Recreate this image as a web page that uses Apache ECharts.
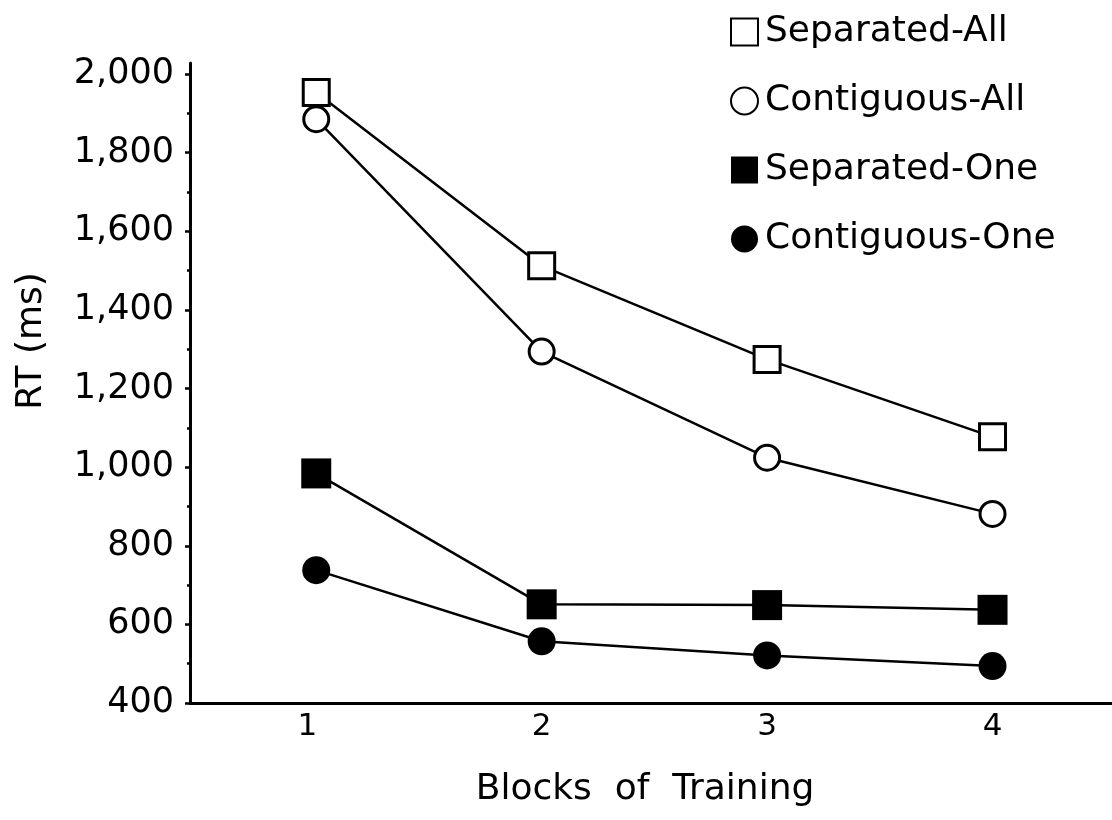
<!DOCTYPE html>
<html>
<head>
<meta charset="utf-8">
<script src="https://cdn.jsdelivr.net/npm/echarts@6/dist/echarts.min.js"></script>
<style>
html,body{margin:0;padding:0;background:#fff;}
#chart{width:1112px;height:820px;}
</style>
</head>
<body>
<div id="chart"></div>
<script>
const blocks = [1, 2, 3, 4];
const separatedAll = [1953, 1512, 1274, 1077];
const contiguousAll = [1885, 1294, 1024, 881];
const separatedOne = [984, 651, 649, 637];
const contiguousOne = [738, 557, 521, 494];
const yTicks = [400, 600, 800, 1000, 1200, 1400, 1600, 1800, 2000];
const seriesNames = ['Separated-All', 'Contiguous-All', 'Separated-One', 'Contiguous-One'];

const FONT = 'DejaVu Sans';
const chart = echarts.init(document.getElementById('chart'), null, {renderer: 'canvas'});

function pairs(vals) { return blocks.map((b, i) => [b, vals[i]]); }

function mkSeries(name, vals, symbol, size, filled) {
  return {
    name: name,
    type: 'line',
    data: pairs(vals),
    symbol: symbol,
    symbolSize: size,
    showAllSymbol: true,
    lineStyle: {color: '#000', width: 2.5},
    itemStyle: {
      color: filled ? '#000' : '#fff',
      borderColor: '#000',
      borderWidth: filled ? 0 : 3,
      opacity: 1
    },
    emphasis: {disabled: true},
    animation: false,
    z: 3
  };
}

chart.setOption({
  backgroundColor: '#fff',
  animation: false,
  grid: {left: 190, right: 0, top: 63, bottom: 117, containLabel: false},
  legend: {
    orient: 'vertical',
    left: 725,
    top: 9,
    itemWidth: 27,
    itemHeight: 27,
    itemGap: 33,
    selectedMode: false,
    textStyle: {fontFamily: FONT, fontSize: 36, color: '#000', padding: [0, 0, 0, 2]},
    data: [
      {name: seriesNames[0], icon: 'rect'},
      {name: seriesNames[1], icon: 'circle'},
      {name: seriesNames[2], icon: 'rect'},
      {name: seriesNames[3], icon: 'circle'}
    ]
  },
  xAxis: {
    type: 'value',
    min: 0.44,
    max: 4.53,
    splitLine: {show: false},
    axisLine: {show: true, onZero: false, lineStyle: {color: '#000', width: 3}},
    axisTick: {show: false},
    axisLabel: {
      customValues: blocks,
      margin: 8,
      fontFamily: FONT,
      fontSize: 31,
      color: '#000',
      formatter: function (v) { return v === 1 ? '{a|1}' : String(v); },
      rich: {a: {fontFamily: FONT, fontSize: 31, color: '#000', padding: [0, 18, 0, 0]}}
    },
    name: 'Blocks  of  Training',
    nameLocation: 'middle',
    nameGap: 69,
    nameTextStyle: {fontFamily: FONT, fontSize: 36, color: '#000', padding: [0, 12, 0, 0]}
  },
  yAxis: {
    type: 'value',
    min: 400,
    max: 2028,
    interval: 200,
    splitLine: {show: false},
    axisLine: {show: true, onZero: false, lineStyle: {color: '#000', width: 3}},
    axisTick: {show: true, customValues: yTicks, length: 5, lineStyle: {color: '#000', width: 2.5}},
    minorTick: {show: true, splitNumber: 2, length: 3, lineStyle: {color: '#000', width: 2.5}},
    axisLabel: {
      customValues: yTicks,
      margin: 16,
      fontFamily: FONT,
      fontSize: 35,
      color: '#000',
      formatter: function (v) { return v.toLocaleString('en-US'); }
    },
    name: 'RT (ms)',
    nameLocation: 'middle',
    nameRotate: 90,
    nameGap: 140,
    nameTextStyle: {fontFamily: FONT, fontSize: 36, color: '#000', padding: [0, 0, 0, 84]}
  },
  series: [
    mkSeries(seriesNames[0], separatedAll, 'rect', 26, false),
    mkSeries(seriesNames[1], contiguousAll, 'circle', 25, false),
    mkSeries(seriesNames[2], separatedOne, 'rect', 30, true),
    mkSeries(seriesNames[3], contiguousOne, 'circle', 28, true)
  ]
});
</script>
</body>
</html>
